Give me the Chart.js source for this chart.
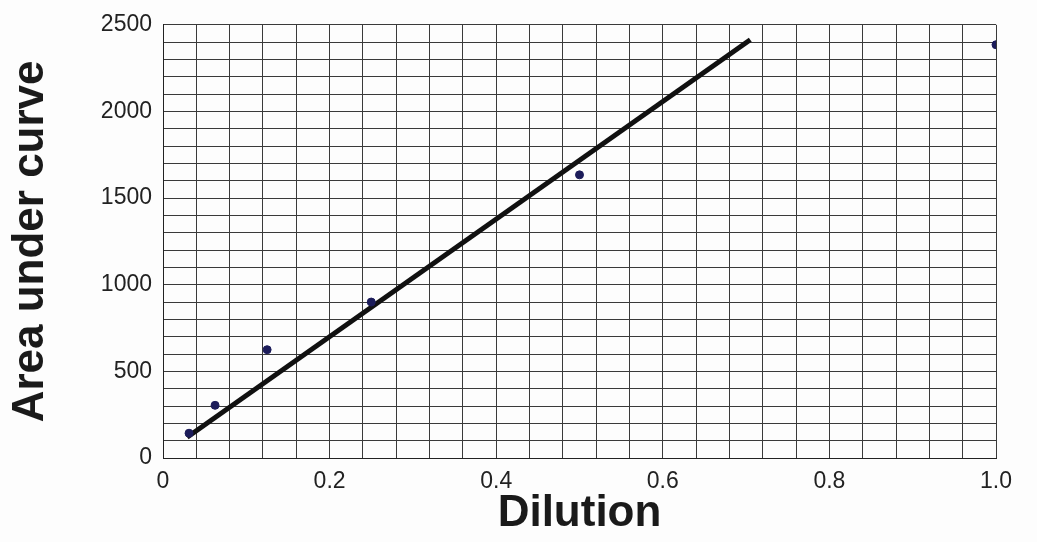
<!DOCTYPE html>
<html>
<head>
<meta charset="utf-8">
<script src="https://cdn.jsdelivr.net/npm/chart.js@4"></script>
<style>
  html, body { margin: 0; padding: 0; background: #fdfdfd; }
  #wrap { width: 1037px; height: 542px; }
</style>
</head>
<body>
<div id="wrap"><canvas id="chart"></canvas></div>
<script>
// measured dilutions and areas
const dilution = [0.03125, 0.0625, 0.125, 0.25, 0.5, 1.0];
const area = [143, 304, 625, 900, 1634, 2385];

// ends of the fitted line
const trendX = [0.029, 0.705];
const trendY = [120, 2414];

const xLabels = ['0', '0.2', '0.4', '0.6', '0.8', '1.0'];
const yLabels = ['0', '500', '1000', '1500', '2000', '2500'];

const pts = dilution.map((x, i) => ({ x: x, y: area[i] }));
const trend = trendX.map((x, i) => ({ x: x, y: trendY[i] }));

const gridColor = '#3a3a3a';

new Chart(document.getElementById('chart').getContext('2d'), {
  type: 'scatter',
  data: {
    datasets: [
      {
        label: 'Area',
        data: pts,
        backgroundColor: '#1c1c5a',
        borderColor: '#1c1c5a',
        pointRadius: 4,
        pointHoverRadius: 4
      },
      {
        label: 'Fit',
        type: 'line',
        data: trend,
        borderColor: '#111',
        borderWidth: 5,
        pointRadius: 0,
        fill: false
      }
    ]
  },
  options: {
    responsive: true,
    maintainAspectRatio: false,
    animation: false,
    layout: { padding: { top: 22, right: 41, left: 0, bottom: 0 } },
    plugins: {
      legend: { display: false },
      tooltip: { enabled: false }
    },
    scales: {
      x: {
        type: 'linear',
        min: 0,
        max: 1,
        afterFit: function(scale) { scale.height = 84; },
        border: { color: '#222', width: 1 },
        grid: { color: gridColor, lineWidth: 1, drawTicks: false },
        ticks: {
          stepSize: 0.04,
          autoSkip: false,
          maxRotation: 0,
          padding: 10,
          color: '#222',
          font: { family: 'Liberation Sans', size: 23 },
          callback: function(value) {
            let k = Math.round(value * 100);
            if (k % 20 !== 0) return '';
            return xLabels[k / 20];
          }
        },
        title: {
          display: true,
          text: 'Dilution',
          color: '#1a1a1a',
          padding: { top: 0, bottom: 2 },
          font: { family: 'Liberation Sans', size: 44, weight: 'bold' }
        }
      },
      y: {
        type: 'linear',
        min: 0,
        max: 2500,
        afterFit: function(scale) { scale.width = 163; },
        border: { color: '#222', width: 1 },
        grid: { color: gridColor, lineWidth: 1, drawTicks: false },
        ticks: {
          stepSize: 100,
          autoSkip: false,
          padding: 11,
          color: '#222',
          font: { family: 'Liberation Sans', size: 23 },
          callback: function(value) {
            let k = Math.round(value);
            if (k % 500 !== 0) return '';
            return yLabels[k / 500];
          }
        },
        title: {
          display: true,
          text: 'Area under curve',
          color: '#1a1a1a',
          padding: { top: 4, bottom: 0 },
          font: { family: 'Liberation Sans', size: 44, weight: 'bold' }
        }
      }
    }
  }
});
</script>
</body>
</html>
